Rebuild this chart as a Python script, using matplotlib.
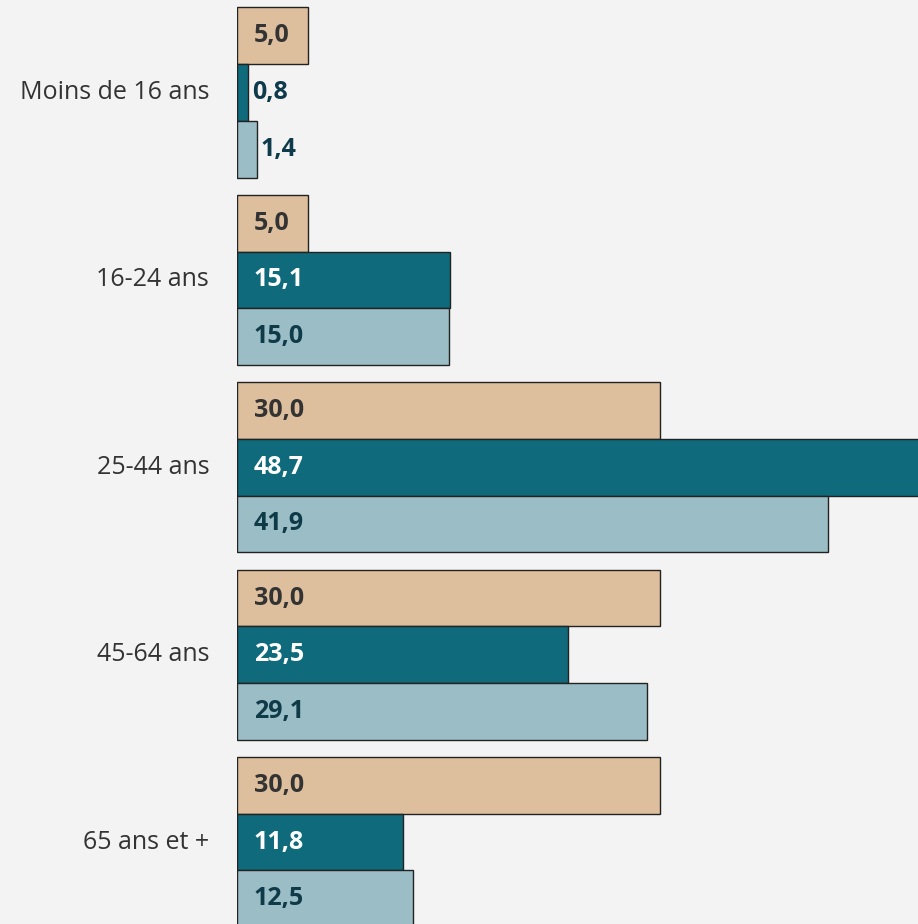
import matplotlib.pyplot as plt
import numpy as np

categories = ['Moins de 16 ans', '16-24 ans', '25-44 ans', '45-64 ans', '65 ans et +']
serie_a = [5.0, 5.0, 30.0, 30.0, 30.0]
serie_b = [0.8, 15.1, 48.7, 23.5, 11.8]
serie_c = [1.4, 15.0, 41.9, 29.1, 12.5]

bg = '#f3f3f3'
colors = ['#ddbf9e', '#0f6b7c', '#9abdc6']
txt_in = ['#333333', '#ffffff', '#0f3a48']
txt_out = ['#333333', '#0d3b4c', '#0d3b4c']

fig = plt.figure(figsize=(9.18, 9.24), dpi=100, facecolor=bg)
ax = fig.add_axes([237/918, 0, 1 - 237/918, 1], facecolor=bg)

y = np.arange(len(categories))
h = 0.3025
series = [serie_a, serie_b, serie_c]
for k, vals in enumerate(series):
    pos = y + (k - 1) * h
    ax.barh(pos, vals, height=h, color=colors[k], edgecolor='#222222', linewidth=1, clip_on=True)
    for p, v in zip(pos, vals):
        lab = f'{v:.1f}'.replace('.', ',')
        if v < 3:
            ax.annotate(lab, (v, p), xytext=(3, 0), textcoords='offset points',
                        ha='left', va='center', fontsize=18, fontweight='bold',
                        color=txt_out[k], family='Open Sans')
        else:
            ax.annotate(lab, (0, p), xytext=(12, 0), textcoords='offset points',
                        ha='left', va='center', fontsize=18, fontweight='bold',
                        color=txt_in[k], family='Open Sans')

for i, c in enumerate(categories):
    ax.annotate(c, (0, i), xytext=(-20, 0), textcoords='offset points',
                ha='right', va='center', fontsize=18, color='#333333',
                family='Open Sans', annotation_clip=False)

px = (918 - 237) / 14.1
ax.set_xlim(0, px)
ax.set_ylim((924 - 92.5) / 187.4, -92.5 / 187.4)
ax.axis('off')

fig.savefig('out.png', dpi=100, facecolor=bg)
